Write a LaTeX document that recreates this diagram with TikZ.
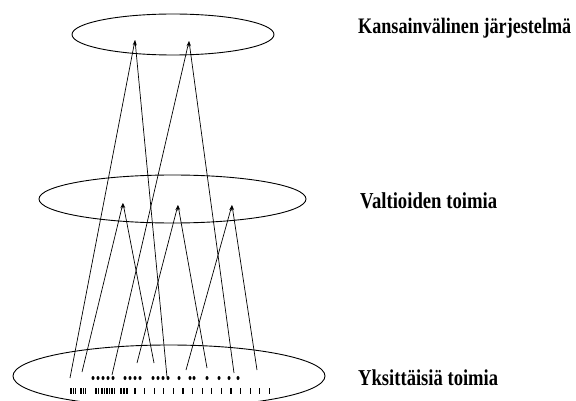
\documentclass[tikz,border=0pt]{standalone}
\usepackage{fontspec}
\setmainfont{Liberation Serif}
\usetikzlibrary{shapes.geometric,arrows.meta}

\tikzset{
  level/.style={draw, ellipse, line width=0.9pt, inner sep=0pt},
  tie/.style={line width=0.7pt, -{Stealth[length=5.5pt,width=2.6pt]}},
  caption/.style={anchor=base west, inner sep=0pt,
    font=\fontsize{18}{20}\selectfont\bfseries},
  actor/.style={fill=black, inner sep=0pt, ellipse, minimum width=3pt, minimum height=4pt},
  person/.style={fill=black, inner sep=0pt, rectangle, minimum width=1.1pt, minimum height=6pt},
}
% stretched caption text of a given width
\newcommand{\tallcaption}[2]{\scalebox{1}[1.22]{\resizebox{#1}{!}{#2}}}

\begin{document}
\begin{tikzpicture}[x=1pt, y=-1pt]
  \useasboundingbox (0,0) rectangle (576,401);

  % the three levels
  \node[level, minimum width=202pt, minimum height=41pt] (intl) at (173,34.5) {};
  \node[level, minimum width=267pt, minimum height=48pt] (states) at (172.5,199) {};
  \node[level, minimum width=312pt, minimum height=62pt] (indiv) at (169,376) {};

  % level names
  \node[caption] (capintl) at (358,34) {\tallcaption{213pt}{Kansainvälinen järjestelmä}};
  \node[caption] (capstates) at (360,208) {\tallcaption{137pt}{Valtioiden toimia}};
  \node[caption] (capindiv) at (358,385) {\tallcaption{140pt}{Yksittäisiä toimia}};

  % points where influence gathers
  \coordinate (t1) at (135,40);
  \coordinate (t2) at (189,41);
  \coordinate (m1) at (123,203);
  \coordinate (m2) at (178,205);
  \coordinate (m3) at (232,205);

  % starting points among the individual actions
  \coordinate (b1) at (70,378);
  \coordinate (b2) at (167,377);
  \coordinate (b3) at (112,375);
  \coordinate (b4) at (234,373);
  \coordinate (b5) at (82,372);
  \coordinate (b6) at (154,363);
  \coordinate (b7) at (137,363);
  \coordinate (b8) at (207,368);
  \coordinate (b9) at (186,370);
  \coordinate (b10) at (257,370);

  % upward links
  \draw[tie] (b1) -- (t1);
  \draw[tie] (b2) -- (t1);
  \draw[tie] (b3) -- (t2);
  \draw[tie] (b4) -- (t2);
  \draw[tie] (b5) -- (m1);
  \draw[tie] (b6) -- (m1);
  \draw[tie] (b7) -- (m2);
  \draw[tie] (b8) -- (m2);
  \draw[tie] (b9) -- (m3);
  \draw[tie] (b10) -- (m3);

  % individual actions, upper row
  \foreach \x [count=\i] in {93,98,103,108,113,125,130,135,140,153,158,163,168,179,190,194,207,219,229,238}
    \node[actor] (u\i) at (\x,378) {};

  % individual actions, lower row
  \foreach \x [count=\i] in {71,73.2,75.4,81,83.2,85.4,96,98.5,102,104.5,107,109.5,112,114.5,121,124,127}
    \node[person] (l\i) at (\x,391) {};
  \foreach \k in {0,...,14}
    \node[person] (s\k) at ({135+9.6*\k},391) {};
\end{tikzpicture}
\end{document}
